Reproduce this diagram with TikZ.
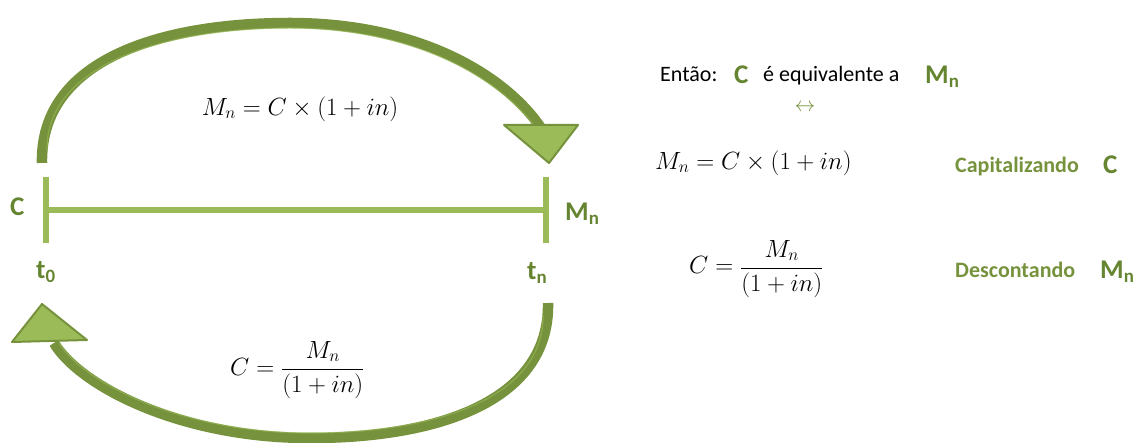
\documentclass[tikz,border=0pt]{standalone}
\usepackage[no-math]{fontspec}
\setmainfont{Carlito}
\definecolor{dkg}{HTML}{76923C}
\definecolor{ltg}{HTML}{9BBB59}
\definecolor{lblg}{HTML}{658531}
\begin{document}
\begin{tikzpicture}[x=1pt,y=-1pt,
  tickline/.style={draw=ltg,line width=5.5pt},
  bigarc/.style={draw=dkg,line width=10.5pt},
  arcshine/.style={draw=ltg,line width=1.2pt,opacity=0.6},
  head/.style={fill=ltg,draw=dkg,line width=2pt,line join=round},
  biglbl/.style={font=\fontsize{27}{30}\selectfont\bfseries,text=lblg,inner sep=0pt},
  word/.style={font=\fontsize{22}{26}\selectfont,text=black,inner sep=0pt},
  gword/.style={font=\fontsize{22}{26}\selectfont\bfseries,text=dkg,inner sep=0pt},
  mathbig/.style={font=\fontsize{25}{30}\selectfont,inner sep=0pt},
  mathsm/.style={font=\fontsize{23}{28}\selectfont,inner sep=0pt}
]
\useasboundingbox (0,0) rectangle (1137,443);

% timeline
\coordinate (t0top) at (46,177);
\coordinate (t0bot) at (46,243);
\coordinate (tntop) at (546,177);
\coordinate (tnbot) at (546,243);
\coordinate (lstart) at (48,210);
\coordinate (lend) at (544,210);
\draw[tickline] (t0top) -- (t0bot);
\draw[tickline] (tntop) -- (tnbot);
\draw[tickline] (lstart) -- (lend);

% labels on the timeline
\node[biglbl,anchor=base west] (lC) at (10,216) {C};
\node[biglbl,anchor=base west] (lM) at (565,221) {M\textsubscript{n}};
\node[biglbl,anchor=base west] (lt0) at (36,279) {t\textsubscript{0}};
\node[biglbl,anchor=base west] (ltn) at (527,280) {t\textsubscript{n}};

% top arc
\coordinate (a1s) at (42,163);
\coordinate (a1e) at (541,128);
\draw[bigarc] (a1s) .. controls (40,60) and (160,23) .. (290,23)
  .. controls (420,23) and (506,76) .. (a1e);
\draw[arcshine] (47,150) .. controls (46,66) and (162,28) .. (290,28)
  .. controls (416,28) and (500,79) .. (536,128);
\draw[head] (504,125) -- (578,125) -- (549,163) -- cycle;

% bottom arc
\coordinate (a2s) at (548,303);
\coordinate (a2e) at (54,343);
\draw[bigarc] (a2s) .. controls (550,400) and (440,438) .. (310,438)
  .. controls (180,438) and (80,386) .. (a2e);
\draw[arcshine] (543,315) .. controls (544,397) and (438,433) .. (310,433)
  .. controls (184,433) and (86,385) .. (59,343);
\draw[head] (12,342) -- (87,340) -- (42,304) -- cycle;

% formulas on the left
\node[mathbig] (f1) at (300,109) {$M_n = C \times (1+in)$};
\node[mathbig,anchor=base west] (f2) at (230,375) {$C = {\displaystyle\frac{M_n}{(1+in)}}$};

% right side
\node[word,anchor=base west] (entao) at (660,82) {Então:};
\node[biglbl,anchor=base west] (rC) at (734,84) {C};
\node[word,anchor=base west] (equiv) at (763,82) {é equivalente a};
\node[biglbl,anchor=base west] (rM) at (925,84) {M\textsubscript{n}};
\node[inner sep=0pt,text=dkg,font=\fontsize{22}{24}\selectfont] (arr) at (805,108) {$\leftrightarrow$};

\node[mathsm,anchor=west] (f3) at (655,163) {$M_n = C \times (1+in)$};
\node[gword,anchor=base west] (cap) at (955,173) {Capitalizando};
\node[biglbl,anchor=base west] (capC) at (1103,174) {C};

\node[mathsm,anchor=base west] (f4) at (689,274) {$C = {\displaystyle\frac{M_n}{(1+in)}}$};
\node[gword,anchor=base west] (desc) at (955,278) {Descontando};
\node[biglbl,anchor=base west] (descM) at (1100,279) {M\textsubscript{n}};
\end{tikzpicture}
\end{document}
